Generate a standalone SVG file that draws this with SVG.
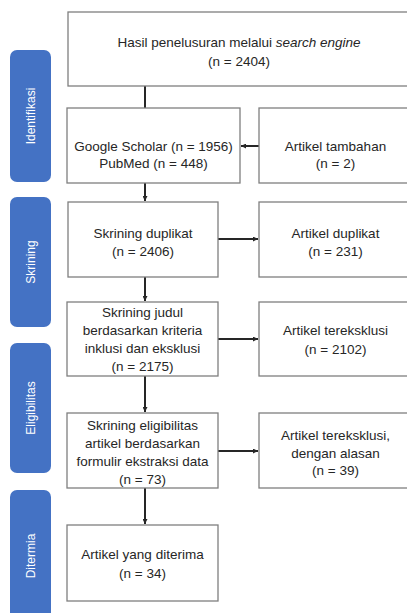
<svg xmlns="http://www.w3.org/2000/svg" width="407" height="613" viewBox="0 0 407 613">
<style>
.box{fill:#fff;stroke:#7f7f7f;stroke-width:1.3}
.side{fill:#4472c4}
.t{font-family:"Liberation Sans",Arial,sans-serif;font-size:13.5px;fill:#262626;text-anchor:middle}
.st{font-family:"Liberation Sans",Arial,sans-serif;font-size:12px;fill:#fff;text-anchor:middle}
.c{stroke:#262626;stroke-width:2;fill:none}
</style>
<defs>
<marker id="ah" viewBox="0 0 6 6" refX="6" refY="3" markerWidth="2.5" markerHeight="2.5" orient="auto" markerUnits="strokeWidth">
<path d="M0,0 L6,3 L0,6 Z" fill="#262626"/>
</marker>
</defs>
<rect width="407" height="613" fill="#fff"/>
<g id="side-identifikasi"><rect class="side" x="10" y="50" width="41" height="132" rx="7"/><text class="st" transform="translate(34.5,116) rotate(-90)">Identifikasi</text></g>
<g id="side-skrining"><rect class="side" x="10" y="197" width="41" height="130" rx="7"/><text class="st" transform="translate(34.5,262) rotate(-90)">Skrining</text></g>
<g id="side-eligibilitas"><rect class="side" x="10" y="343" width="41" height="130" rx="7"/><text class="st" transform="translate(34.5,408) rotate(-90)">Eligibilitas</text></g>
<g id="side-ditermia"><rect class="side" x="10" y="490" width="41" height="135" rx="7"/><text class="st" transform="translate(34.5,556) rotate(-90)">Ditermia</text></g>
<g id="connectors">
<line class="c" x1="145" y1="86" x2="145" y2="108"/>
<line class="c" x1="259" y1="146" x2="241" y2="146" marker-end="url(#ah)"/>
<line class="c" x1="145" y1="183" x2="145" y2="201" marker-end="url(#ah)"/>
<line class="c" x1="218" y1="239" x2="258" y2="239" marker-end="url(#ah)"/>
<line class="c" x1="145" y1="277" x2="145" y2="301" marker-end="url(#ah)"/>
<line class="c" x1="218" y1="339" x2="258" y2="339" marker-end="url(#ah)"/>
<line class="c" x1="145" y1="376" x2="145" y2="412" marker-end="url(#ah)"/>
<line class="c" x1="218" y1="451" x2="258" y2="451" marker-end="url(#ah)"/>
<line class="c" x1="145" y1="488" x2="145" y2="524" marker-end="url(#ah)"/>
</g>
<g id="n-search"><rect class="box" x="68" y="12" width="345" height="74"/><text class="t" x="239" y="46.5">Hasil penelusuran melalui <tspan font-style="italic">search engine</tspan></text><text class="t" x="239" y="66">(n = 2404)</text></g>
<g id="n-google"><rect class="box" x="67" y="108" width="173" height="75"/><text class="t" x="153.5" y="150.5">Google Scholar (n = 1956)</text><text class="t" x="153.5" y="168">PubMed (n = 448)</text></g>
<g id="n-tambahan"><rect class="box" x="259" y="108" width="154" height="75"/><text class="t" x="335.5" y="150.5">Artikel tambahan</text><text class="t" x="335.5" y="168">(n = 2)</text></g>
<g id="n-duplikat"><rect class="box" x="68" y="202" width="150" height="75"/><text class="t" x="143" y="237.5">Skrining duplikat</text><text class="t" x="143" y="255.5">(n = 2406)</text></g>
<g id="n-artikel-duplikat"><rect class="box" x="259" y="202" width="154" height="75"/><text class="t" x="335.5" y="237.5">Artikel duplikat</text><text class="t" x="335.5" y="255.5">(n = 231)</text></g>
<g id="n-judul"><rect class="box" x="67" y="302" width="151" height="74"/><text class="t" x="142.5" y="317">Skrining judul</text><text class="t" x="142.5" y="335">berdasarkan kriteria</text><text class="t" x="142.5" y="353">inklusi dan eksklusi</text><text class="t" x="142.5" y="371">(n = 2175)</text></g>
<g id="n-tereksklusi"><rect class="box" x="259" y="302" width="154" height="74"/><text class="t" x="335.5" y="334.5">Artikel tereksklusi</text><text class="t" x="335.5" y="353.5">(n = 2102)</text></g>
<g id="n-eligibilitas"><rect class="box" x="67" y="413" width="151" height="75"/><text class="t" x="142.5" y="429.5">Skrining eligibilitas</text><text class="t" x="142.5" y="447.5">artikel berdasarkan</text><text class="t" x="142.5" y="466">formulir ekstraksi data</text><text class="t" x="142.5" y="483.5">(n = 73)</text></g>
<g id="n-alasan"><rect class="box" x="259" y="413" width="154" height="75"/><text class="t" x="335.5" y="439.5">Artikel tereksklusi,</text><text class="t" x="335.5" y="457.5">dengan alasan</text><text class="t" x="335.5" y="474.5">(n = 39)</text></g>
<g id="n-diterima"><rect class="box" x="67" y="525" width="151" height="76"/><text class="t" x="142.5" y="558.5">Artikel yang diterima</text><text class="t" x="142.5" y="577.5">(n = 34)</text></g>
</svg>
